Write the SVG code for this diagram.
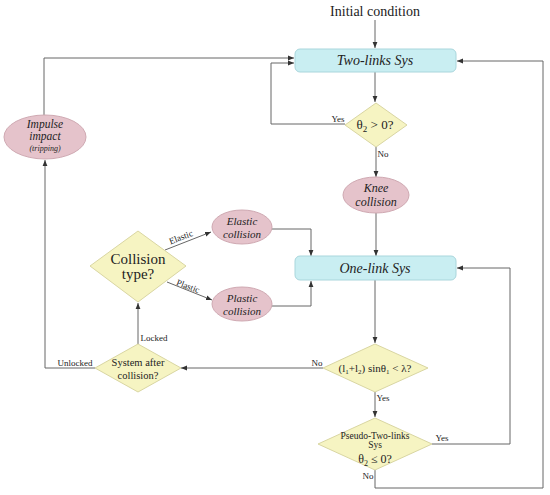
<svg xmlns="http://www.w3.org/2000/svg" width="550" height="495" viewBox="0 0 550 495" font-family="Liberation Serif, DejaVu Serif, serif">
<defs>
<marker id="ah" viewBox="0 0 10 10" refX="10" refY="5" markerWidth="6" markerHeight="6" orient="auto" markerUnits="userSpaceOnUse">
<path d="M0,1 L10,5 L0,9 Z" fill="#333"/>
</marker>
<style>
.ln{fill:none;stroke:#666;stroke-width:1}
.box{fill:#c9eef2;stroke:#a9d6dc;stroke-width:1}
.ell{fill:#e5c3cb;stroke:#cfa9b2;stroke-width:1}
.dia{fill:#f6f4c2;stroke:#d9d6a2;stroke-width:1}
text{font-family:"Liberation Serif","DejaVu Serif",serif;fill:#222;text-anchor:middle}
.it{font-style:italic}
.lb{font-size:9px}
</style>
</defs>
<rect width="550" height="495" fill="#fff"/>
<g id="connectors">
<path class="ln" d="M375,20 V48" marker-end="url(#ah)"/>
<path class="ln" d="M375,72 V102" marker-end="url(#ah)"/>
<path class="ln" d="M345,124 H271 V63 H294" marker-end="url(#ah)"/>
<path class="ln" d="M376,147 V177" marker-end="url(#ah)"/>
<path class="ln" d="M376,213 V256" marker-end="url(#ah)"/>
<path class="ln" d="M272,229 H311 V256" marker-end="url(#ah)"/>
<path class="ln" d="M272,306 H311 V281" marker-end="url(#ah)"/>
<path class="ln" d="M375,280 V343" marker-end="url(#ah)"/>
<path class="ln" d="M323,368 H181" marker-end="url(#ah)"/>
<path class="ln" d="M375,392 V417" marker-end="url(#ah)"/>
<path class="ln" d="M432,444 H510 V268 H457" marker-end="url(#ah)"/>
<path class="ln" d="M375,470 V488 H543 V61 H457" marker-end="url(#ah)"/>
<path class="ln" d="M138,344 V303" marker-end="url(#ah)"/>
<path class="ln" d="M95,368 H45 V160" marker-end="url(#ah)"/>
<path class="ln" d="M44,115 V58 H294" marker-end="url(#ah)"/>
<path class="ln" d="M165,250 L211,232" marker-end="url(#ah)"/>
<path class="ln" d="M167,282 L212,300" marker-end="url(#ah)"/>
<text x="338" y="122" class="lb">Yes</text>
<text x="383" y="157" class="lb">No</text>
<text x="317" y="366" class="lb">No</text>
<text x="383" y="401" class="lb">Yes</text>
<text x="442" y="441" class="lb">Yes</text>
<text x="368" y="479" class="lb">No</text>
<text x="154" y="341" class="lb">Locked</text>
<text x="75" y="366" class="lb">Unlocked</text>
<text x="182" y="240" class="lb" transform="rotate(-21 182 240)">Elastic</text>
<text x="187" y="289" class="lb" transform="rotate(21 187 289)">Plastic</text>
</g>
<g id="initial">
<text x="375" y="16" font-size="14">Initial condition</text>
</g>
<g id="two-links">
<rect class="box" x="295" y="49" width="161" height="23" rx="5"/>
<text x="375" y="65" font-size="14" class="it">Two-links Sys</text>
</g>
<g id="theta2-check">
<path class="dia" d="M376,103 L407,125 L376,147 L345,125 Z"/>
<text x="375" y="129" font-size="13">θ<tspan font-size="9" dy="3">2</tspan><tspan dy="-3"> &gt; 0?</tspan></text>
</g>
<g id="knee">
<ellipse class="ell" cx="376" cy="195" rx="33" ry="18"/>
<text x="376" y="192" font-size="12" class="it">Knee</text>
<text x="376" y="206" font-size="12" class="it">collision</text>
</g>
<g id="one-link">
<rect class="box" x="295" y="256" width="161" height="24" rx="5"/>
<text x="375" y="273" font-size="14" class="it">One-link Sys</text>
</g>
<g id="lambda-check">
<path class="dia" d="M375,344 L428,368 L375,392 L323,368 Z"/>
<text x="375" y="372" font-size="11">(l<tspan font-size="7" dy="2">1</tspan><tspan dy="-2">+l</tspan><tspan font-size="7" dy="2">2</tspan><tspan dy="-2">) sinθ</tspan><tspan font-size="7" dy="2">1</tspan><tspan dy="-2"> &lt; λ?</tspan></text>
</g>
<g id="pseudo">
<path class="dia" d="M375,418 L432,444 L375,470 L318,444 Z"/>
<text x="375" y="439" font-size="9.5">Pseudo-Two-links</text>
<text x="375" y="448" font-size="9.5">Sys</text>
<text x="375" y="463" font-size="12">θ<tspan font-size="8" dy="3">2</tspan><tspan dy="-3"> ≤ 0?</tspan></text>
</g>
<g id="collision-type">
<path class="dia" d="M138,231 L186,266 L138,302 L90,266 Z"/>
<text x="138" y="264" font-size="15">Collision</text>
<text x="138" y="279" font-size="15">type?</text>
</g>
<g id="elastic">
<ellipse class="ell" cx="242" cy="227" rx="30" ry="17"/>
<text x="242" y="225" font-size="11" class="it">Elastic</text>
<text x="242" y="238" font-size="11" class="it">collision</text>
</g>
<g id="plastic">
<ellipse class="ell" cx="242" cy="304" rx="30" ry="17"/>
<text x="242" y="302" font-size="11" class="it">Plastic</text>
<text x="242" y="315" font-size="11" class="it">collision</text>
</g>
<g id="system-after">
<path class="dia" d="M138,344 L181,368 L138,392 L95,368 Z"/>
<text x="138" y="366" font-size="10.5">System after</text>
<text x="138" y="379" font-size="10.5">collision?</text>
</g>
<g id="impulse">
<ellipse class="ell" cx="45" cy="137" rx="41" ry="22"/>
<text x="45" y="128" font-size="11.5" class="it">Impulse</text>
<text x="45" y="140" font-size="11.5" class="it">impact</text>
<text x="45" y="151" font-size="8" class="it">(tripping)</text>
</g>
</svg>
